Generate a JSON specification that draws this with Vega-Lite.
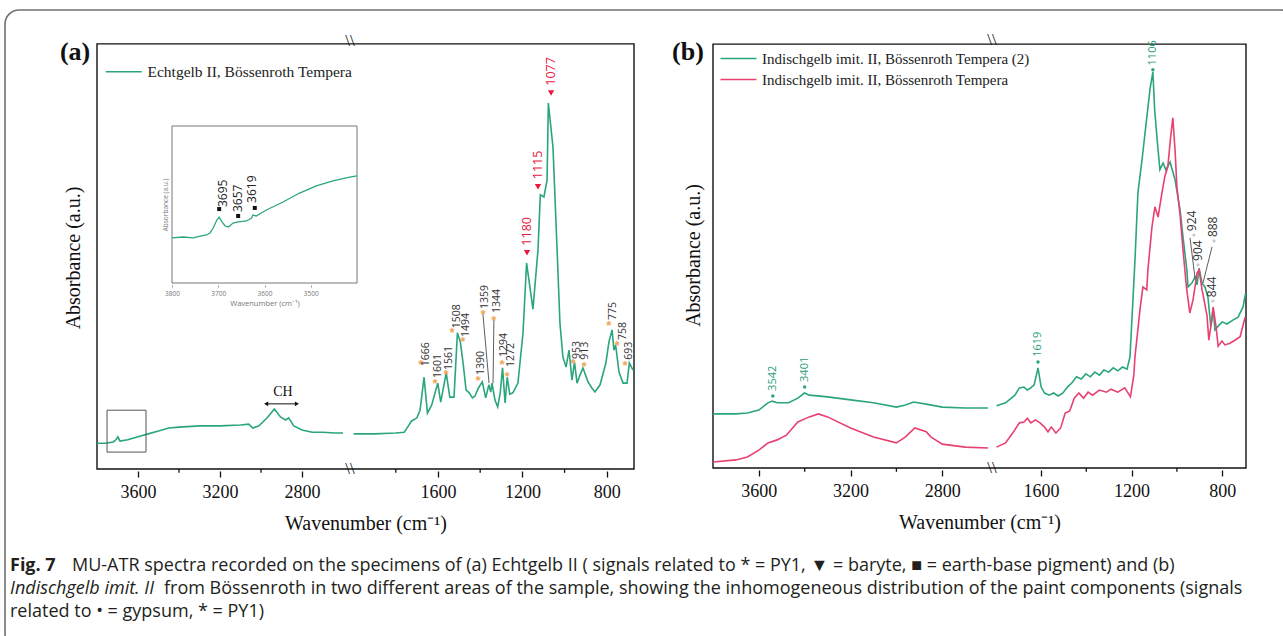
{
  "$schema": "https://vega.github.io/schema/vega-lite/v6.json",
  "width": 1283,
  "height": 636,
  "autosize": {"type": "fit", "contains": "padding"},
  "padding": {"left": 5, "top": 10, "right": -12, "bottom": -12},
  "background": "white",
  "config": {
    "view": {"stroke": "#707070", "strokeWidth": 1.6, "cornerRadius": 14},
    "axis": {"grid": false, "domain": false, "labelFont": "Liberation Serif", "titleFont": "Liberation Serif", "labelColor": "#111", "titleColor": "#111", "titleFontWeight": "normal", "tickColor": "#111"},
    "legend": {"padding": 0, "offset": 0, "labelFont": "Liberation Serif", "labelFontSize": 15, "labelColor": "#222", "labelLimit": 500, "symbolSize": 100, "symbolStrokeWidth": 1.6, "labelOffset": 16, "rowPadding": 5}
  },
  "datasets": {
    "specA": [
      {"wn":3800,"A":0.061,"seg":"L"},{"wn":3760,"A":0.061,"seg":"L"},{"wn":3720,"A":0.064,"seg":"L"},{"wn":3708,"A":0.069,"seg":"L"},{"wn":3698,"A":0.076,"seg":"L"},{"wn":3688,"A":0.066,"seg":"L"},{"wn":3650,"A":0.069,"seg":"L"},{"wn":3600,"A":0.076,"seg":"L"},{"wn":3550,"A":0.083,"seg":"L"},{"wn":3500,"A":0.090,"seg":"L"},{"wn":3450,"A":0.097,"seg":"L"},{"wn":3400,"A":0.099,"seg":"L"},{"wn":3300,"A":0.102,"seg":"L"},{"wn":3200,"A":0.102,"seg":"L"},{"wn":3100,"A":0.104,"seg":"L"},{"wn":3060,"A":0.106,"seg":"L"},{"wn":3040,"A":0.097,"seg":"L"},{"wn":3010,"A":0.102,"seg":"L"},{"wn":2970,"A":0.121,"seg":"L"},{"wn":2935,"A":0.142,"seg":"L"},{"wn":2905,"A":0.123,"seg":"L"},{"wn":2880,"A":0.116,"seg":"L"},{"wn":2865,"A":0.121,"seg":"L"},{"wn":2840,"A":0.102,"seg":"L"},{"wn":2800,"A":0.092,"seg":"L"},{"wn":2750,"A":0.087,"seg":"L"},{"wn":2700,"A":0.087,"seg":"L"},{"wn":2640,"A":0.085,"seg":"L"},{"wn":2600,"A":0.085,"seg":"L"},
      {"wn":2000,"A":0.083,"seg":"R"},{"wn":1900,"A":0.083,"seg":"R"},{"wn":1800,"A":0.085,"seg":"R"},{"wn":1760,"A":0.087,"seg":"R"},{"wn":1740,"A":0.102,"seg":"R"},{"wn":1726,"A":0.113,"seg":"R"},{"wn":1700,"A":0.121,"seg":"R"},{"wn":1685,"A":0.139,"seg":"R"},{"wn":1666,"A":0.217,"seg":"R"},{"wn":1650,"A":0.132,"seg":"R"},{"wn":1630,"A":0.151,"seg":"R"},{"wn":1601,"A":0.203,"seg":"R"},{"wn":1587,"A":0.158,"seg":"R"},{"wn":1561,"A":0.227,"seg":"R"},{"wn":1544,"A":0.170,"seg":"R"},{"wn":1524,"A":0.170,"seg":"R"},{"wn":1508,"A":0.322,"seg":"R"},{"wn":1494,"A":0.300,"seg":"R"},{"wn":1480,"A":0.246,"seg":"R"},{"wn":1467,"A":0.187,"seg":"R"},{"wn":1452,"A":0.180,"seg":"R"},{"wn":1437,"A":0.168,"seg":"R"},{"wn":1425,"A":0.172,"seg":"R"},{"wn":1409,"A":0.191,"seg":"R"},{"wn":1390,"A":0.206,"seg":"R"},{"wn":1374,"A":0.168,"seg":"R"},{"wn":1359,"A":0.199,"seg":"R"},{"wn":1350,"A":0.182,"seg":"R"},{"wn":1344,"A":0.203,"seg":"R"},{"wn":1330,"A":0.163,"seg":"R"},{"wn":1317,"A":0.147,"seg":"R"},{"wn":1305,"A":0.180,"seg":"R"},{"wn":1294,"A":0.239,"seg":"R"},{"wn":1282,"A":0.156,"seg":"R"},{"wn":1272,"A":0.217,"seg":"R"},{"wn":1260,"A":0.177,"seg":"R"},{"wn":1245,"A":0.180,"seg":"R"},{"wn":1221,"A":0.203,"seg":"R"},{"wn":1197,"A":0.322,"seg":"R"},{"wn":1180,"A":0.487,"seg":"R"},{"wn":1150,"A":0.378,"seg":"R"},{"wn":1126,"A":0.518,"seg":"R"},{"wn":1115,"A":0.648,"seg":"R"},{"wn":1098,"A":0.643,"seg":"R"},{"wn":1083,"A":0.683,"seg":"R"},{"wn":1077,"A":0.865,"seg":"R"},{"wn":1055,"A":0.761,"seg":"R"},{"wn":1036,"A":0.525,"seg":"R"},{"wn":1022,"A":0.345,"seg":"R"},{"wn":1008,"A":0.265,"seg":"R"},{"wn":993,"A":0.241,"seg":"R"},{"wn":979,"A":0.281,"seg":"R"},{"wn":965,"A":0.210,"seg":"R"},{"wn":953,"A":0.253,"seg":"R"},{"wn":941,"A":0.203,"seg":"R"},{"wn":927,"A":0.222,"seg":"R"},{"wn":913,"A":0.239,"seg":"R"},{"wn":889,"A":0.206,"seg":"R"},{"wn":870,"A":0.191,"seg":"R"},{"wn":856,"A":0.182,"seg":"R"},{"wn":832,"A":0.199,"seg":"R"},{"wn":813,"A":0.234,"seg":"R"},{"wn":804,"A":0.251,"seg":"R"},{"wn":790,"A":0.300,"seg":"R"},{"wn":775,"A":0.329,"seg":"R"},{"wn":766,"A":0.281,"seg":"R"},{"wn":758,"A":0.293,"seg":"R"},{"wn":742,"A":0.229,"seg":"R"},{"wn":723,"A":0.203,"seg":"R"},{"wn":704,"A":0.203,"seg":"R"},{"wn":693,"A":0.251,"seg":"R"},{"wn":676,"A":0.234,"seg":"R"}
    ],
    "annA": [
      {"t":"1666","wn":1657,"A":0.243,"mwn":1681,"mA":0.253},
      {"t":"1601","wn":1600,"A":0.215,"mwn":1614,"mA":0.208},
      {"t":"1561","wn":1548,"A":0.234,"mwn":1562,"mA":0.229},
      {"t":"1508","wn":1510,"A":0.333,"mwn":1534,"mA":0.329},
      {"t":"1494","wn":1467,"A":0.312,"mwn":1482,"mA":0.307},
      {"t":"1390","wn":1396,"A":0.222,"mwn":1410,"mA":0.215},
      {"t":"1359","wn":1377,"A":0.378,"mwn":1387,"mA":0.371},
      {"t":"1344","wn":1320,"A":0.369,"mwn":1335,"mA":0.357},
      {"t":"1294","wn":1287,"A":0.265,"mwn":1297,"mA":0.253},
      {"t":"1272","wn":1254,"A":0.241,"mwn":1273,"mA":0.225},
      {"t":"953","wn":941,"A":0.260,"mwn":960,"mA":0.255},
      {"t":"913","wn":903,"A":0.258,"mwn":908,"mA":0.248},
      {"t":"775","wn":771,"A":0.352,"mwn":790,"mA":0.345},
      {"t":"758","wn":723,"A":0.305,"mwn":752,"mA":0.298},
      {"t":"693","wn":695,"A":0.258,"mwn":714,"mA":0.251}
    ],
    "annAred": [
      {"t":"1180","wn":1178,"tri":0.511,"A":0.528},
      {"t":"1115","wn":1126,"tri":0.667,"A":0.685},
      {"t":"1077","wn":1064,"tri":0.889,"A":0.906}
    ],
    "leadA": [
      {"wn":1387,"A":0.366,"wn2":1358,"A2":0.203},
      {"wn":1335,"A":0.352,"wn2":1339,"A2":0.203}
    ],
    "inset": [
      {"wn":3800,"I":0.287},{"wn":3776,"I":0.293},{"wn":3754,"I":0.287},{"wn":3739,"I":0.299},{"wn":3725,"I":0.306},{"wn":3718,"I":0.318},{"wn":3711,"I":0.350},{"wn":3703,"I":0.401},{"wn":3698,"I":0.420},{"wn":3692,"I":0.389},{"wn":3685,"I":0.363},{"wn":3678,"I":0.357},{"wn":3668,"I":0.382},{"wn":3657,"I":0.389},{"wn":3639,"I":0.395},{"wn":3628,"I":0.414},{"wn":3625,"I":0.433},{"wn":3618,"I":0.427},{"wn":3596,"I":0.465},{"wn":3560,"I":0.516},{"wn":3524,"I":0.573},{"wn":3488,"I":0.618},{"wn":3452,"I":0.650},{"wn":3416,"I":0.675},{"wn":3400,"I":0.682}
    ],
    "annI": [
      {"t":"3695","wn":3690,"I":0.484,"mwn":3698,"mI":0.471},
      {"t":"3657","wn":3657,"I":0.452,"mwn":3657,"mI":0.427},
      {"t":"3619","wn":3627,"I":0.510,"mwn":3621,"mI":0.478}
    ],
    "specBg": [
      {"wn":3800,"B":0.127,"seg":"L"},{"wn":3700,"B":0.127,"seg":"L"},{"wn":3650,"B":0.129,"seg":"L"},{"wn":3600,"B":0.136,"seg":"L"},{"wn":3560,"B":0.153,"seg":"L"},{"wn":3542,"B":0.157,"seg":"L"},{"wn":3520,"B":0.153,"seg":"L"},{"wn":3470,"B":0.153,"seg":"L"},{"wn":3430,"B":0.164,"seg":"L"},{"wn":3401,"B":0.176,"seg":"L"},{"wn":3380,"B":0.171,"seg":"L"},{"wn":3300,"B":0.167,"seg":"L"},{"wn":3200,"B":0.160,"seg":"L"},{"wn":3100,"B":0.153,"seg":"L"},{"wn":3000,"B":0.143,"seg":"L"},{"wn":2960,"B":0.148,"seg":"L"},{"wn":2925,"B":0.155,"seg":"L"},{"wn":2870,"B":0.150,"seg":"L"},{"wn":2800,"B":0.143,"seg":"L"},{"wn":2700,"B":0.141,"seg":"L"},{"wn":2600,"B":0.141,"seg":"L"},
      {"wn":1796,"B":0.146,"seg":"R"},{"wn":1756,"B":0.153,"seg":"R"},{"wn":1715,"B":0.171,"seg":"R"},{"wn":1695,"B":0.188,"seg":"R"},{"wn":1675,"B":0.190,"seg":"R"},{"wn":1660,"B":0.183,"seg":"R"},{"wn":1645,"B":0.188,"seg":"R"},{"wn":1630,"B":0.195,"seg":"R"},{"wn":1613,"B":0.235,"seg":"R"},{"wn":1599,"B":0.190,"seg":"R"},{"wn":1584,"B":0.176,"seg":"R"},{"wn":1564,"B":0.171,"seg":"R"},{"wn":1544,"B":0.176,"seg":"R"},{"wn":1524,"B":0.169,"seg":"R"},{"wn":1503,"B":0.176,"seg":"R"},{"wn":1483,"B":0.190,"seg":"R"},{"wn":1463,"B":0.200,"seg":"R"},{"wn":1443,"B":0.214,"seg":"R"},{"wn":1422,"B":0.209,"seg":"R"},{"wn":1402,"B":0.221,"seg":"R"},{"wn":1382,"B":0.214,"seg":"R"},{"wn":1362,"B":0.225,"seg":"R"},{"wn":1342,"B":0.218,"seg":"R"},{"wn":1322,"B":0.230,"seg":"R"},{"wn":1301,"B":0.225,"seg":"R"},{"wn":1281,"B":0.235,"seg":"R"},{"wn":1261,"B":0.228,"seg":"R"},{"wn":1240,"B":0.237,"seg":"R"},{"wn":1220,"B":0.232,"seg":"R"},{"wn":1207,"B":0.261,"seg":"R"},{"wn":1185,"B":0.488,"seg":"R"},{"wn":1172,"B":0.646,"seg":"R"},{"wn":1154,"B":0.723,"seg":"R"},{"wn":1130,"B":0.836,"seg":"R"},{"wn":1118,"B":0.892,"seg":"R"},{"wn":1106,"B":0.930,"seg":"R"},{"wn":1098,"B":0.840,"seg":"R"},{"wn":1087,"B":0.770,"seg":"R"},{"wn":1075,"B":0.700,"seg":"R"},{"wn":1061,"B":0.716,"seg":"R"},{"wn":1049,"B":0.700,"seg":"R"},{"wn":1030,"B":0.718,"seg":"R"},{"wn":1008,"B":0.676,"seg":"R"},{"wn":986,"B":0.606,"seg":"R"},{"wn":973,"B":0.542,"seg":"R"},{"wn":956,"B":0.465,"seg":"R"},{"wn":951,"B":0.425,"seg":"R"},{"wn":934,"B":0.434,"seg":"R"},{"wn":920,"B":0.448,"seg":"R"},{"wn":911,"B":0.430,"seg":"R"},{"wn":902,"B":0.469,"seg":"R"},{"wn":889,"B":0.434,"seg":"R"},{"wn":876,"B":0.425,"seg":"R"},{"wn":863,"B":0.401,"seg":"R"},{"wn":850,"B":0.331,"seg":"R"},{"wn":840,"B":0.376,"seg":"R"},{"wn":832,"B":0.324,"seg":"R"},{"wn":818,"B":0.333,"seg":"R"},{"wn":800,"B":0.343,"seg":"R"},{"wn":779,"B":0.338,"seg":"R"},{"wn":753,"B":0.347,"seg":"R"},{"wn":730,"B":0.354,"seg":"R"},{"wn":708,"B":0.378,"seg":"R"},{"wn":697,"B":0.410,"seg":"R"}
    ],
    "specBp": [
      {"wn":3800,"B":0.014,"seg":"L"},{"wn":3700,"B":0.019,"seg":"L"},{"wn":3650,"B":0.026,"seg":"L"},{"wn":3600,"B":0.042,"seg":"L"},{"wn":3560,"B":0.059,"seg":"L"},{"wn":3520,"B":0.066,"seg":"L"},{"wn":3480,"B":0.077,"seg":"L"},{"wn":3430,"B":0.108,"seg":"L"},{"wn":3380,"B":0.120,"seg":"L"},{"wn":3340,"B":0.127,"seg":"L"},{"wn":3300,"B":0.120,"seg":"L"},{"wn":3200,"B":0.094,"seg":"L"},{"wn":3100,"B":0.073,"seg":"L"},{"wn":3000,"B":0.059,"seg":"L"},{"wn":2960,"B":0.073,"seg":"L"},{"wn":2920,"B":0.094,"seg":"L"},{"wn":2870,"B":0.085,"seg":"L"},{"wn":2850,"B":0.073,"seg":"L"},{"wn":2800,"B":0.056,"seg":"L"},{"wn":2700,"B":0.049,"seg":"L"},{"wn":2600,"B":0.047,"seg":"L"},
      {"wn":1796,"B":0.049,"seg":"R"},{"wn":1756,"B":0.059,"seg":"R"},{"wn":1725,"B":0.082,"seg":"R"},{"wn":1695,"B":0.106,"seg":"R"},{"wn":1675,"B":0.108,"seg":"R"},{"wn":1660,"B":0.117,"seg":"R"},{"wn":1645,"B":0.106,"seg":"R"},{"wn":1624,"B":0.113,"seg":"R"},{"wn":1604,"B":0.106,"seg":"R"},{"wn":1584,"B":0.096,"seg":"R"},{"wn":1569,"B":0.085,"seg":"R"},{"wn":1554,"B":0.096,"seg":"R"},{"wn":1534,"B":0.082,"seg":"R"},{"wn":1513,"B":0.094,"seg":"R"},{"wn":1493,"B":0.129,"seg":"R"},{"wn":1473,"B":0.134,"seg":"R"},{"wn":1453,"B":0.164,"seg":"R"},{"wn":1433,"B":0.176,"seg":"R"},{"wn":1412,"B":0.164,"seg":"R"},{"wn":1392,"B":0.178,"seg":"R"},{"wn":1372,"B":0.171,"seg":"R"},{"wn":1342,"B":0.183,"seg":"R"},{"wn":1311,"B":0.178,"seg":"R"},{"wn":1291,"B":0.185,"seg":"R"},{"wn":1261,"B":0.178,"seg":"R"},{"wn":1230,"B":0.188,"seg":"R"},{"wn":1205,"B":0.167,"seg":"R"},{"wn":1190,"B":0.218,"seg":"R"},{"wn":1185,"B":0.261,"seg":"R"},{"wn":1163,"B":0.371,"seg":"R"},{"wn":1150,"B":0.425,"seg":"R"},{"wn":1133,"B":0.418,"seg":"R"},{"wn":1128,"B":0.465,"seg":"R"},{"wn":1110,"B":0.566,"seg":"R"},{"wn":1097,"B":0.613,"seg":"R"},{"wn":1083,"B":0.589,"seg":"R"},{"wn":1066,"B":0.646,"seg":"R"},{"wn":1053,"B":0.685,"seg":"R"},{"wn":1040,"B":0.707,"seg":"R"},{"wn":1029,"B":0.770,"seg":"R"},{"wn":1018,"B":0.822,"seg":"R"},{"wn":1008,"B":0.746,"seg":"R"},{"wn":1000,"B":0.660,"seg":"R"},{"wn":986,"B":0.594,"seg":"R"},{"wn":973,"B":0.512,"seg":"R"},{"wn":958,"B":0.425,"seg":"R"},{"wn":943,"B":0.364,"seg":"R"},{"wn":929,"B":0.394,"seg":"R"},{"wn":920,"B":0.425,"seg":"R"},{"wn":911,"B":0.458,"seg":"R"},{"wn":902,"B":0.465,"seg":"R"},{"wn":889,"B":0.418,"seg":"R"},{"wn":880,"B":0.394,"seg":"R"},{"wn":867,"B":0.357,"seg":"R"},{"wn":859,"B":0.300,"seg":"R"},{"wn":846,"B":0.347,"seg":"R"},{"wn":840,"B":0.378,"seg":"R"},{"wn":827,"B":0.331,"seg":"R"},{"wn":818,"B":0.286,"seg":"R"},{"wn":801,"B":0.298,"seg":"R"},{"wn":788,"B":0.289,"seg":"R"},{"wn":766,"B":0.293,"seg":"R"},{"wn":744,"B":0.300,"seg":"R"},{"wn":721,"B":0.308,"seg":"R"},{"wn":699,"B":0.354,"seg":"R"}
    ],
    "annBt": [
      {"t":"3542","wn":3539,"B":0.181,"dB":0.169},
      {"t":"3401","wn":3400,"B":0.202,"dB":0.190},
      {"t":"1619","wn":1613,"B":0.261,"dB":0.249},
      {"t":"1106","wn":1106,"B":0.945,"dB":0.935}
    ],
    "annBk": [
      {"t":"924","wn":933,"B":0.556,"dwn":925,"dB":0.547},
      {"t":"904","wn":907,"B":0.486,"dwn":907,"dB":0.477},
      {"t":"888","wn":841,"B":0.542,"dwn":836,"dB":0.533},
      {"t":"844","wn":845,"B":0.401,"dwn":841,"dB":0.392}
    ],
    "leadB": [
      {"wn":942,"B":0.540,"wn2":920,"B2":0.446},
      {"wn":845,"B":0.519,"wn2":885,"B2":0.434}
    ],
    "capB": [{"line":1,"t":"Fig. 7"}],
    "capR1": [{"line":1,"t":"MU-ATR spectra recorded on the specimens of (a) Echtgelb II ( signals related to * = PY1, \u25bc = baryte, \u25a0 = earth-base pigment) and (b)"}],
    "capI": [{"line":2,"t":"Indischgelb imit. II"}],
    "capR2": [{"line":2,"t":"from B\u00f6ssenroth in two different areas of the sample, showing the inhomogeneous distribution of the paint components (signals"}],
    "capR3": [{"line":3,"t":"related to \u2022 = gypsum, * = PY1)"}]
  },
  "layer": [
    {
      "layer": [
        {"data": {"values": [{}]}, "mark": {"type": "rect", "fillOpacity": 0, "stroke": "#111", "strokeWidth": 1.4},
         "encoding": {"x": {"datum": 3800, "type": "quantitative"}, "x2": {"datum": 671}, "y": {"datum": 0, "type": "quantitative"}, "y2": {"datum": 1.005}}},
        {"data": {"name": "specA"}, "mark": {"type": "line", "strokeWidth": 1.6},
         "encoding": {
           "x": {"field": "wn", "type": "quantitative",
                 "scale": {"domain": [3800, 2566, 2017, 671], "range": [92, 345, 345, 629], "nice": false, "zero": false},
                 "axis": {"orient": "bottom", "offset": -177, "values": [3600, 3200, 2800, 1600, 1200, 800], "format": "d", "tickSize": 6, "tickWidth": 1.3, "labelFontSize": 18, "labelPadding": 6, "labelOverlap": false, "labelFlush": false, "title": "Wavenumber (cm\u207b\u00b9)", "titleFontSize": 20, "titlePadding": 12}},
           "y": {"field": "A", "type": "quantitative",
                 "scale": {"domain": [0, 1], "range": [459, 36], "nice": false, "zero": false},
                 "axis": {"orient": "left", "offset": -92, "ticks": false, "labels": false, "title": "Absorbance (a.u.)", "titleFontSize": 20, "titlePadding": 14}},
           "detail": {"field": "seg"},
           "color": {"datum": "Echtgelb II, B\u00f6ssenroth Tempera", "scale": {"range": ["#2aa57e"]},
                     "legend": {"title": null, "orient": "none", "legendX": 111, "legendY": 54, "symbolType": "M-3.6,0H3.6", "labelFontSize": 15.5}}
         }},
        {"data": {"values": [{"wn": 3400}, {"wn": 3000}, {"wn": 1800}, {"wn": 1400}, {"wn": 1000}]},
         "mark": {"type": "rule", "color": "#111", "strokeWidth": 1.3},
         "encoding": {"x": {"field": "wn", "type": "quantitative"}, "y": {"datum": 0, "type": "quantitative"}, "y2": {"datum": -0.009}}},
        {"data": {"values": [{}]}, "mark": {"type": "rect", "fillOpacity": 0, "stroke": "#555", "strokeWidth": 1},
         "encoding": {"x": {"datum": 3751, "type": "quantitative"}, "x2": {"datum": 3561}, "y": {"datum": 0.04, "type": "quantitative"}, "y2": {"datum": 0.139}}},
        {"data": {"values": [{}]}, "mark": {"type": "rule", "color": "#111", "strokeWidth": 1},
         "encoding": {"x": {"datum": 2975, "type": "quantitative"}, "x2": {"datum": 2825}, "y": {"datum": 0.154, "type": "quantitative"}}},
        {"data": {"values": [{}]}, "mark": {"type": "point", "shape": "triangle-left", "filled": true, "color": "#111", "size": 22, "opacity": 1},
         "encoding": {"x": {"datum": 2975, "type": "quantitative"}, "y": {"datum": 0.154, "type": "quantitative"}}},
        {"data": {"values": [{}]}, "mark": {"type": "point", "shape": "triangle-right", "filled": true, "color": "#111", "size": 22, "opacity": 1},
         "encoding": {"x": {"datum": 2825, "type": "quantitative"}, "y": {"datum": 0.154, "type": "quantitative"}}},
        {"data": {"values": [{}]}, "mark": {"type": "text", "text": "CH", "font": "Liberation Serif", "fontSize": 14, "baseline": "middle", "color": "#111"},
         "encoding": {"x": {"datum": 2893, "type": "quantitative"}, "y": {"datum": 0.182, "type": "quantitative"}}},
        {"data": {"values": [{}]}, "mark": {"type": "text", "text": "(a)", "font": "Liberation Serif", "fontSize": 26, "fontWeight": "bold", "baseline": "middle", "color": "#111"},
         "encoding": {"x": {"datum": 3907, "type": "quantitative"}, "y": {"datum": 0.986, "type": "quantitative"}}},
        {"data": {"values": [{"A": 0}, {"A": 1.012}]}, "mark": {"type": "text", "text": "\\\\", "font": "Liberation Serif", "fontSize": 17, "baseline": "middle", "color": "#111"},
         "encoding": {"x": {"datum": 2300, "type": "quantitative"}, "y": {"field": "A", "type": "quantitative"}}},
        {"data": {"name": "leadA"}, "mark": {"type": "rule", "color": "#333", "strokeWidth": 0.8},
         "encoding": {"x": {"field": "wn", "type": "quantitative"}, "y": {"field": "A", "type": "quantitative"}, "x2": {"field": "wn2"}, "y2": {"field": "A2"}}},
        {"data": {"name": "annA"}, "mark": {"type": "text", "text": "*", "color": "#f0a455", "fontSize": 13, "fontWeight": "bold", "baseline": "middle", "dy": 3},
         "encoding": {"x": {"field": "mwn", "type": "quantitative"}, "y": {"field": "mA", "type": "quantitative"}}},
        {"data": {"name": "annA"}, "mark": {"type": "text", "angle": 270, "align": "left", "baseline": "middle", "font": "Open Sans", "fontSize": 10.5, "color": "#333"},
         "encoding": {"x": {"field": "wn", "type": "quantitative"}, "y": {"field": "A", "type": "quantitative"}, "text": {"field": "t", "type": "nominal"}}},
        {"data": {"name": "annAred"}, "mark": {"type": "point", "shape": "triangle-down", "filled": true, "color": "#e8193f", "size": 40, "opacity": 1},
         "encoding": {"x": {"field": "wn", "type": "quantitative"}, "y": {"field": "tri", "type": "quantitative"}}},
        {"data": {"name": "annAred"}, "mark": {"type": "text", "angle": 270, "align": "left", "baseline": "middle", "font": "Open Sans", "fontSize": 12.5, "color": "#e8193f"},
         "encoding": {"x": {"field": "wn", "type": "quantitative"}, "y": {"field": "A", "type": "quantitative"}, "text": {"field": "t", "type": "nominal"}}}
      ]
    },
    {
      "layer": [
        {"data": {"values": [{}]}, "mark": {"type": "rect", "fillOpacity": 0, "stroke": "#111", "strokeWidth": 1.4},
         "encoding": {"x": {"datum": 3800, "type": "quantitative"}, "x2": {"datum": 695}, "y": {"datum": 0, "type": "quantitative"}, "y2": {"datum": 0.995}}},
        {"data": {"name": "specBg"}, "mark": {"type": "line", "strokeWidth": 1.6},
         "encoding": {
           "x": {"field": "wn", "type": "quantitative",
                 "scale": {"domain": [3800, 2583, 1816, 695], "range": [708, 987, 987, 1241], "nice": false, "zero": false},
                 "axis": {"orient": "bottom", "offset": -178, "values": [3600, 3200, 2800, 1600, 1200, 800], "format": "d", "tickSize": 6, "tickWidth": 1.3, "labelFontSize": 18, "labelPadding": 6, "labelOverlap": false, "labelFlush": false, "title": "Wavenumber (cm\u207b\u00b9)", "titleFontSize": 20, "titlePadding": 12}},
           "y": {"field": "B", "type": "quantitative",
                 "scale": {"domain": [0, 1], "range": [458, 32], "nice": false, "zero": false},
                 "axis": {"orient": "left", "offset": -708, "ticks": false, "labels": false, "title": "Absorbance (a.u.)", "titleFontSize": 20, "titlePadding": 10}},
           "detail": {"field": "seg"},
           "color": {"datum": "Indischgelb imit. II, B\u00f6ssenroth Tempera (2)",
                     "scale": {"domain": ["Indischgelb imit. II, B\u00f6ssenroth Tempera (2)", "Indischgelb imit. II, B\u00f6ssenroth Tempera"], "range": ["#2aa57e", "#e8416f"]},
                     "legend": {"title": null, "orient": "none", "legendX": 726, "legendY": 41, "symbolType": "M-3.6,0H3.6"}}
         }},
        {"data": {"name": "specBp"}, "mark": {"type": "line", "strokeWidth": 1.6},
         "encoding": {
           "x": {"field": "wn", "type": "quantitative"},
           "y": {"field": "B", "type": "quantitative"},
           "detail": {"field": "seg"},
           "color": {"datum": "Indischgelb imit. II, B\u00f6ssenroth Tempera"}
         }},
        {"data": {"values": [{"wn": 3400}, {"wn": 3000}, {"wn": 1400}, {"wn": 1000}]},
         "mark": {"type": "rule", "color": "#111", "strokeWidth": 1.3},
         "encoding": {"x": {"field": "wn", "type": "quantitative"}, "y": {"datum": 0, "type": "quantitative"}, "y2": {"datum": -0.009}}},
        {"data": {"values": [{}]}, "mark": {"type": "text", "text": "(b)", "font": "Liberation Serif", "fontSize": 26, "fontWeight": "bold", "baseline": "middle", "color": "#111"},
         "encoding": {"x": {"datum": 3909, "type": "quantitative"}, "y": {"datum": 0.977, "type": "quantitative"}}},
        {"data": {"values": [{"B": 0}, {"B": 1.005}]}, "mark": {"type": "text", "text": "\\\\", "font": "Liberation Serif", "fontSize": 17, "baseline": "middle", "color": "#111"},
         "encoding": {"x": {"datum": 2200, "type": "quantitative"}, "y": {"field": "B", "type": "quantitative"}}},
        {"data": {"name": "leadB"}, "mark": {"type": "rule", "color": "#333", "strokeWidth": 0.8},
         "encoding": {"x": {"field": "wn", "type": "quantitative"}, "y": {"field": "B", "type": "quantitative"}, "x2": {"field": "wn2"}, "y2": {"field": "B2"}}},
        {"data": {"name": "annBt"}, "mark": {"type": "circle", "color": "#2aa57e", "size": 12, "opacity": 1},
         "encoding": {"x": {"field": "wn", "type": "quantitative"}, "y": {"field": "dB", "type": "quantitative"}}},
        {"data": {"name": "annBt"}, "mark": {"type": "text", "angle": 270, "align": "left", "baseline": "middle", "font": "Open Sans", "fontSize": 11, "color": "#2a9d78"},
         "encoding": {"x": {"field": "wn", "type": "quantitative"}, "y": {"field": "B", "type": "quantitative"}, "text": {"field": "t", "type": "nominal"}}},
        {"data": {"name": "annBk"}, "mark": {"type": "circle", "color": "#c8c8c8", "size": 10, "opacity": 1},
         "encoding": {"x": {"field": "dwn", "type": "quantitative"}, "y": {"field": "dB", "type": "quantitative"}}},
        {"data": {"name": "annBk"}, "mark": {"type": "text", "angle": 270, "align": "left", "baseline": "middle", "font": "Open Sans", "fontSize": 12, "color": "#333"},
         "encoding": {"x": {"field": "wn", "type": "quantitative"}, "y": {"field": "B", "type": "quantitative"}, "text": {"field": "t", "type": "nominal"}}}
      ]
    },
    {
      "layer": [
        {"data": {"values": [{}]}, "mark": {"type": "rect", "fillOpacity": 0, "stroke": "#777", "strokeWidth": 1},
         "encoding": {"x": {"datum": 3800, "type": "quantitative"}, "x2": {"datum": 3400}, "y": {"datum": 0, "type": "quantitative"}, "y2": {"datum": 1}}},
        {"data": {"name": "inset"}, "mark": {"type": "line", "color": "#2aa57e", "strokeWidth": 1.3},
         "encoding": {
           "x": {"field": "wn", "type": "quantitative",
                 "scale": {"domain": [3800, 3400], "range": [167, 352], "nice": false, "zero": false},
                 "axis": {"orient": "bottom", "offset": -363, "values": [3800, 3700, 3600, 3500], "format": "d", "tickSize": 2, "tickColor": "#999", "labelFont": "Open Sans", "labelFontSize": 6.5, "labelColor": "#777", "labelPadding": 3, "labelOverlap": false, "labelFlush": false, "title": "Wavenumber (cm\u207b\u00b9)", "titleFont": "Open Sans", "titleFontSize": 7.5, "titleColor": "#777", "titlePadding": 3}},
           "y": {"field": "I", "type": "quantitative",
                 "scale": {"domain": [0, 1], "range": [273, 116], "nice": false, "zero": false},
                 "axis": {"orient": "left", "offset": -167, "ticks": false, "labels": false, "title": "Absorbance (a.u.)", "titleFont": "Open Sans", "titleFontSize": 6.5, "titleColor": "#777", "titlePadding": 4}}
         }},
        {"data": {"name": "annI"}, "mark": {"type": "square", "color": "#111", "size": 16, "opacity": 1},
         "encoding": {"x": {"field": "mwn", "type": "quantitative"}, "y": {"field": "mI", "type": "quantitative"}}},
        {"data": {"name": "annI"}, "mark": {"type": "text", "angle": 270, "align": "left", "baseline": "middle", "font": "Open Sans", "fontSize": 12, "color": "#222"},
         "encoding": {"x": {"field": "wn", "type": "quantitative"}, "y": {"field": "I", "type": "quantitative"}, "text": {"field": "t", "type": "nominal"}}}
      ]
    },
    {
      "layer": [
        {"data": {"name": "capB"}, "mark": {"type": "text", "align": "left", "baseline": "middle", "font": "Open Sans", "fontSize": 18, "fontWeight": "bold", "color": "#231f20"},
         "encoding": {
           "x": {"datum": 0, "type": "quantitative", "scale": {"domain": [0, 1], "range": [5, 1270]}, "axis": null},
           "y": {"field": "line", "type": "quantitative", "scale": {"domain": [1, 3], "range": [556, 602]}, "axis": null},
           "text": {"field": "t", "type": "nominal"}}},
        {"data": {"name": "capR1"}, "mark": {"type": "text", "align": "left", "baseline": "middle", "font": "Open Sans", "fontSize": 18, "color": "#231f20", "dx": 62},
         "encoding": {
           "x": {"datum": 0, "type": "quantitative", "axis": null},
           "y": {"field": "line", "type": "quantitative", "axis": null},
           "text": {"field": "t", "type": "nominal"}}},
        {"data": {"name": "capI"}, "mark": {"type": "text", "align": "left", "baseline": "middle", "font": "Open Sans", "fontSize": 18, "fontStyle": "italic", "color": "#231f20"},
         "encoding": {
           "x": {"datum": 0, "type": "quantitative", "axis": null},
           "y": {"field": "line", "type": "quantitative", "axis": null},
           "text": {"field": "t", "type": "nominal"}}},
        {"data": {"name": "capR2"}, "mark": {"type": "text", "align": "left", "baseline": "middle", "font": "Open Sans", "fontSize": 18, "color": "#231f20", "dx": 154},
         "encoding": {
           "x": {"datum": 0, "type": "quantitative", "axis": null},
           "y": {"field": "line", "type": "quantitative", "axis": null},
           "text": {"field": "t", "type": "nominal"}}},
        {"data": {"name": "capR3"}, "mark": {"type": "text", "align": "left", "baseline": "middle", "font": "Open Sans", "fontSize": 18, "color": "#231f20"},
         "encoding": {
           "x": {"datum": 0, "type": "quantitative", "axis": null},
           "y": {"field": "line", "type": "quantitative", "axis": null},
           "text": {"field": "t", "type": "nominal"}}}
      ]
    }
  ],
  "resolve": {
    "scale": {"x": "independent", "y": "independent", "color": "independent"},
    "axis": {"x": "independent", "y": "independent"},
    "legend": {"color": "independent"}
  }
}
